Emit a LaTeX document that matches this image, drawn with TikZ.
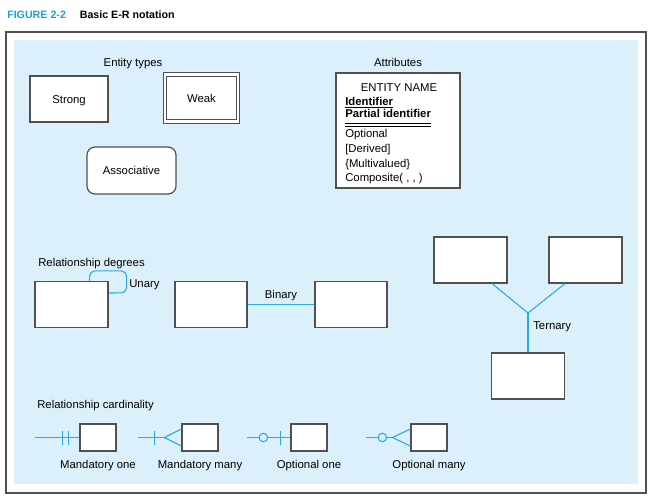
\documentclass[tikz,border=0pt]{standalone}
\usepackage{fontspec}
\setmainfont{Liberation Sans}
\usetikzlibrary{positioning,calc}

\definecolor{relcyan}{RGB}{41,171,226}
\definecolor{titlecyan}{RGB}{28,160,222}
\definecolor{panelblue}{RGB}{219,240,250}
\definecolor{boxgray}{RGB}{80,80,80}

\tikzset{
  entity/.style={draw=boxgray,line width=0.9pt,fill=white,inner sep=0pt,
    minimum width=54.75pt,minimum height=34.5pt,text height=6.1pt,text depth=0pt},
  smallent/.style={entity,minimum width=27pt,minimum height=20.25pt},
  rel/.style={draw=relcyan,line width=0.8pt},
  lbl/.style={anchor=base west,inner sep=0pt},
  clbl/.style={anchor=base,inner sep=0pt}
}

\begin{document}
\begin{tikzpicture}[x=0.75pt,y=-0.75pt,font=\fontsize{8.5}{10}\selectfont]
        \useasboundingbox (0,0) rectangle (654,500);
        \fill[white] (0,0) rectangle (654,500);
        \node[lbl,font=\fontsize{8}{10}\selectfont\bfseries] (title) at (7,18)
          {\textcolor{titlecyan}{FIGURE 2-2}\hspace{1.3em}Basic E-R notation};
        \draw[boxgray,line width=1.3pt] (6,32) rectangle (646,493);
        \fill[panelblue] (14,40) rectangle (638,484);

        \node[clbl] (enttypes) at (133,66) {Entity types};
        \node[entity,minimum width=58.5pt] (strong) at (69,99) {Strong};
        \node[entity,double=white,double distance=1.6pt,line width=0.8pt,
          minimum width=55pt,minimum height=35.25pt] (weak) at (201.5,98) {Weak};
        \node[entity,rounded corners=6pt,minimum width=66.75pt,minimum height=35.25pt]
          (assoc) at (131.5,170.5) {Associative};

        \node[clbl] (attrtitle) at (398,66) {Attributes};
        \node[entity,minimum width=93pt,minimum height=86.25pt] (attrbox) at (398,130.5) {};
        \node[clbl] (entname) at (399,91) {ENTITY NAME};
        \node[lbl,font=\fontsize{8.5}{10}\selectfont\bfseries] (ident) at (345,105.5) {Identifier};
        \node[lbl,font=\fontsize{8.5}{10}\selectfont\bfseries] (pident) at (345,117.5) {Partial identifier};
        \draw[line width=0.6pt] ([yshift=-1.6pt]ident.base west) -- ([yshift=-1.6pt]ident.base east);
        \draw[line width=0.6pt] ([yshift=-4.1pt]pident.base west) -- ([yshift=-4.1pt]pident.base east);
        \draw[line width=0.6pt] ([yshift=-6.3pt]pident.base west) -- ([yshift=-6.3pt]pident.base east);
        \node[lbl] (optional) at (345,137) {Optional};
        \node[lbl] (derived) at (345,152) {[Derived]};
        \node[lbl] (multi) at (345,167) {\{Multivalued\}};
        \node[lbl] (composite) at (345,181) {Composite( , , )};

        \node[lbl] (degrees) at (38,266) {Relationship degrees};
        \node[entity] (unary) at (71.5,304.5) {};
        \draw[rel,rounded corners=4pt] ($(unary.north east)+(-19,0)$) -- ++(0,-10) -- ++(37,0)
          -- ++(0,22) -- ($(unary.east)+(0,-11.5)$);
        \node[lbl] (unarylbl) at (129,287) {Unary};

        \node[entity,minimum width=54pt] (bin1) at (211,304.5) {};
        \node[entity,minimum width=54pt] (bin2) at (351,304.5) {};
        \draw[rel] (bin1) -- (bin2) node[midway,above=1pt,inner sep=1pt] {Binary};

        \node[entity] (ter1) at (470.5,260) {};
        \node[entity] (ter2) at (585.5,260) {};
        \node[entity] (ter3) at (528,376) {};
        \coordinate (tj) at (528,313);
        \draw[rel] ($(ter1.south)+(21.5,0)$) -- (tj) -- ($(ter2.south)+(-20.5,0)$);
        \draw[rel] (tj) -- (ter3);
        \node[lbl] (terlbl) at (533,329) {Ternary};

        \node[lbl] (cardlbl) at (37,408) {Relationship cardinality};
        \node[smallent] (mone) at (98,437.5) {};
        \node[smallent] (mmany) at (200,437.5) {};
        \node[smallent] (oone) at (309,437.5) {};
        \node[smallent] (omany) at (429,437.5) {};
        \coordinate (moS) at (35,437.5);
        \coordinate (mmS) at (138,437.5);
        \coordinate (ooS) at (247,437.5);
        \coordinate (omS) at (366,437.5);

        \draw[rel] (moS) -- (mone);
        \draw[rel] ($(mone.west)+(-17,-7)$) -- ++(0,14);
        \draw[rel] ($(mone.west)+(-11,-7)$) -- ++(0,14);

        \draw[rel] (mmS) -- ($(mmany.west)+(-17,0)$);
        \draw[rel] ($(mmany.west)+(-27,-7)$) -- ++(0,14);
        \draw[rel] ($(mmany.west)+(0,-8.5)$) -- ($(mmany.west)+(-17,0)$) -- ($(mmany.west)+(0,8.5)$);

        \draw[rel] (ooS) -- (oone);
        \draw[rel] ($(oone.west)+(-10,-7)$) -- ++(0,14);
        \draw[rel,fill=panelblue] ($(oone.west)+(-27,0)$) circle[radius=3.2pt];

        \draw[rel] (omS) -- ($(omany.west)+(-18,0)$);
        \draw[rel] ($(omany.west)+(0,-8.5)$) -- ($(omany.west)+(-18,0)$) -- ($(omany.west)+(0,8.5)$);
        \draw[rel,fill=panelblue] ($(omany.west)+(-28,0)$) circle[radius=3.2pt];

        \node[clbl] (monelbl) at ($(mone.south)+(0,17)$) {Mandatory one};
        \node[clbl] (mmanylbl) at ($(mmany.south)+(0,17)$) {Mandatory many};
        \node[clbl] (oonelbl) at ($(oone.south)+(0,17)$) {Optional one};
        \node[clbl] (omanylbl) at ($(omany.south)+(0,17)$) {Optional many};
    \end{tikzpicture}
\end{document}
